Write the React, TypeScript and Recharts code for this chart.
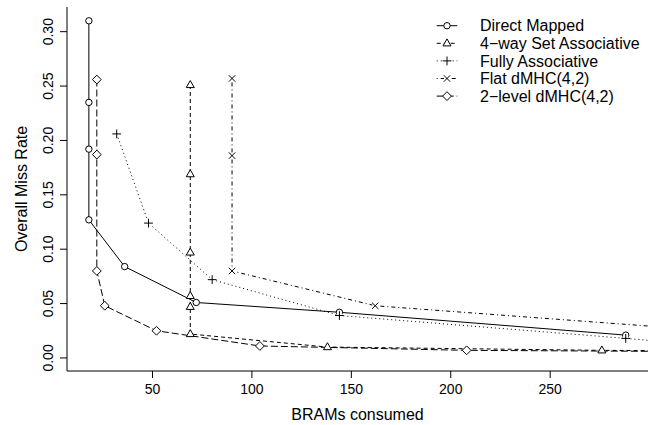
import React from "react"
import { ComposedChart, Line, XAxis, YAxis, Legend } from "recharts"

const FONT = '"Liberation Sans", Arial, Helvetica, sans-serif'

// BRAMs consumed (x) and overall miss rate (y) for each cache design
const directX = [18, 18, 18, 18, 36, 72, 144, 288]
const directY = [0.31, 0.235, 0.192, 0.127, 0.084, 0.051, 0.042, 0.021]

const fourWayX = [69, 69, 69, 69, 69, 69, 138, 276, 552]
const fourWayY = [0.251, 0.169, 0.097, 0.057, 0.047, 0.022, 0.01, 0.007, 0.004]

const fullyX = [32, 48, 80, 144, 288, 340]
const fullyY = [0.206, 0.124, 0.072, 0.039, 0.018, 0.01]

const flatX = [90, 90, 90, 162, 324]
const flatY = [0.257, 0.186, 0.08, 0.048, 0.026]

const twoLevelX = [22, 22, 22, 26, 52, 104, 208, 416]
const twoLevelY = [0.256, 0.187, 0.08, 0.048, 0.025, 0.011, 0.007, 0.005]

const xTicks = [50, 100, 150, 200, 250]
const yTicks = [0, 0.05, 0.1, 0.15, 0.2, 0.25, 0.3]

const xDomain = [7, 299.2]
const yDomain = [-0.012, 0.3227]

type Shape = "circle" | "triangle" | "plus" | "cross" | "diamond"

const zip = (xs: number[], ys: number[]) => xs.map((x, i) => ({ x, y: ys[i] }))

const series = [
  { name: "Direct Mapped", data: zip(directX, directY), dash: undefined, shape: "circle" as Shape },
  { name: "4\u2212way Set Associative", data: zip(fourWayX, fourWayY), dash: "4 3", shape: "triangle" as Shape },
  { name: "Fully Associative", data: zip(fullyX, fullyY), dash: "1 3", shape: "plus" as Shape },
  { name: "Flat dMHC(4,2)", data: zip(flatX, flatY), dash: "1 3 4 3", shape: "cross" as Shape },
  { name: "2\u2212level dMHC(4,2)", data: zip(twoLevelX, twoLevelY), dash: "7 3", shape: "diamond" as Shape },
]

function Marker({ cx, cy, shape }: { cx: number; cy: number; shape: Shape }) {
  const common = { stroke: "#000", strokeWidth: 1, fill: "#fff" }
  if (shape === "circle") return <circle cx={cx} cy={cy} r={3.2} {...common} />
  if (shape === "triangle")
    return <polygon points={`${cx},${cy - 4.4} ${cx - 4},${cy + 2.6} ${cx + 4},${cy + 2.6}`} {...common} />
  if (shape === "diamond")
    return <polygon points={`${cx},${cy - 4.4} ${cx + 4.4},${cy} ${cx},${cy + 4.4} ${cx - 4.4},${cy}`} {...common} />
  if (shape === "plus")
    return (
      <g stroke="#000" strokeWidth={1}>
        <circle cx={cx} cy={cy} r={3} fill="#fff" stroke="none" />
        <line x1={cx - 4.4} y1={cy} x2={cx + 4.4} y2={cy} />
        <line x1={cx} y1={cy - 4.4} x2={cx} y2={cy + 4.4} />
      </g>
    )
  return (
    <g stroke="#000" strokeWidth={1}>
      <circle cx={cx} cy={cy} r={3} fill="#fff" stroke="none" />
      <line x1={cx - 3.2} y1={cy - 3.2} x2={cx + 3.2} y2={cy + 3.2} />
      <line x1={cx - 3.2} y1={cy + 3.2} x2={cx + 3.2} y2={cy - 3.2} />
    </g>
  )
}

const XTick = ({ x, y, payload }: any) => (
  <text x={x} y={y + 16} textAnchor="middle" fontSize={14} fontFamily={FONT} fill="#000">
    {payload.value}
  </text>
)

const YTick = ({ x, y, payload }: any) => (
  <text
    x={x - 6.7}
    y={y}
    transform={`rotate(-90, ${x - 6.7}, ${y})`}
    textAnchor="middle"
    fontSize={14}
    fontFamily={FONT}
    fill="#000"
  >
    {Number(payload.value).toFixed(2)}
  </text>
)

const XTitle = ({ viewBox }: any) => (
  <text
    x={viewBox.x + viewBox.width / 2}
    y={419.5}
    textAnchor="middle"
    fontSize={16}
    fontFamily={FONT}
    fill="#000"
  >
    BRAMs consumed
  </text>
)

const YTitle = ({ viewBox }: any) => {
  const cx = 26.7
  const cy = viewBox.y + viewBox.height / 2
  return (
    <text x={cx} y={cy} transform={`rotate(-90, ${cx}, ${cy})`} textAnchor="middle" fontSize={16} fontFamily={FONT} fill="#000">
      Overall Miss Rate
    </text>
  )
}

const LegendBox = () => (
  <svg width={230} height={100} style={{ display: "block" }}>
    {series.map((s, i) => {
      const cy = 15.7 + i * 17.6
      return (
        <g key={s.name}>
          <line x1={11.7} x2={32.3} y1={cy} y2={cy} stroke="#000" strokeWidth={1} strokeDasharray={s.dash} />
          <Marker cx={22} cy={cy} shape={s.shape} />
          <text x={55} y={cy + 5.7} fontSize={16} fontFamily={FONT} fill="#000">
            {s.name}
          </text>
        </g>
      )
    })}
  </svg>
)

export default function App() {
  return (
    <div style={{ position: "absolute", left: 0, top: 0, width: 664, height: 425, background: "#fff" }}>
      <ComposedChart width={664} height={425} margin={{ top: 7, right: 16, left: 0, bottom: 0 }}>
        <XAxis
          type="number"
          dataKey="x"
          domain={xDomain}
          allowDataOverflow
          ticks={xTicks}
          interval={0}
          height={54}
          tickSize={7}
          tickMargin={0}
          tick={<XTick />}
          stroke="#000"
          axisLine={{ stroke: "#000" }}
          tickLine={{ stroke: "#000" }}
          label={{ content: <XTitle /> }}
        />
        <XAxis
          xAxisId="top"
          orientation="top"
          type="number"
          domain={xDomain}
          allowDataOverflow
          height={0}
          tick={false}
          tickLine={false}
          axisLine={{ stroke: "#000" }}
        />
        <YAxis
          type="number"
          domain={yDomain}
          allowDataOverflow
          ticks={yTicks}
          interval={0}
          width={67}
          tickSize={7}
          tickMargin={0}
          tick={<YTick />}
          axisLine={{ stroke: "#000" }}
          tickLine={{ stroke: "#000" }}
          label={{ content: <YTitle /> }}
        />
        <YAxis
          yAxisId="right"
          orientation="right"
          type="number"
          domain={yDomain}
          allowDataOverflow
          width={0}
          tick={false}
          tickLine={false}
          axisLine={{ stroke: "#000" }}
        />
        {series.map((s) => (
          <Line
            key={s.name}
            name={s.name}
            data={s.data}
            dataKey="y"
            type="linear"
            stroke="#000"
            strokeWidth={1}
            strokeDasharray={s.dash}
            isAnimationActive={false}
            activeDot={false}
            dot={(p: any) => <Marker key={`${s.name}-${p.index}`} cx={p.cx} cy={p.cy} shape={s.shape} />}
          />
        ))}
        <Legend
          layout="vertical"
          align="center"
          verticalAlign="middle"
          content={<LegendBox />}
          wrapperStyle={{ position: "absolute", left: 425, top: 10, width: 230, height: 100 }}
        />
      </ComposedChart>
    </div>
  )
}
